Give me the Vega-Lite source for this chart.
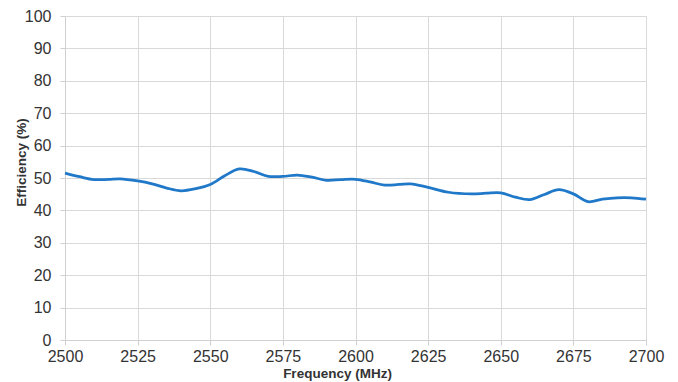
{
  "$schema": "https://vega.github.io/schema/vega-lite/v6.json",
  "width": 581,
  "height": 324,
  "autosize": {"type": "none"},
  "padding": {"left": 65, "top": 16, "right": 32, "bottom": 42},
  "background": "white",
  "config": {"view": {"stroke": null}},
  "data": {
    "values": [
      {"freq": 2500, "eff": 51.5},
      {"freq": 2505, "eff": 50.4},
      {"freq": 2510, "eff": 49.5},
      {"freq": 2515, "eff": 49.6},
      {"freq": 2519, "eff": 49.75},
      {"freq": 2525, "eff": 49.1},
      {"freq": 2530, "eff": 48.2},
      {"freq": 2535, "eff": 46.9},
      {"freq": 2540, "eff": 46.05},
      {"freq": 2545, "eff": 46.7},
      {"freq": 2550, "eff": 48.0},
      {"freq": 2555, "eff": 50.7},
      {"freq": 2560, "eff": 52.8},
      {"freq": 2565, "eff": 52.0},
      {"freq": 2570, "eff": 50.5},
      {"freq": 2575, "eff": 50.5},
      {"freq": 2580, "eff": 50.9},
      {"freq": 2585, "eff": 50.25},
      {"freq": 2590, "eff": 49.3},
      {"freq": 2595, "eff": 49.5},
      {"freq": 2600, "eff": 49.6},
      {"freq": 2605, "eff": 48.8},
      {"freq": 2610, "eff": 47.8},
      {"freq": 2615, "eff": 48.0},
      {"freq": 2619, "eff": 48.2},
      {"freq": 2625, "eff": 47.1},
      {"freq": 2632, "eff": 45.6},
      {"freq": 2640, "eff": 45.1},
      {"freq": 2645, "eff": 45.3},
      {"freq": 2650, "eff": 45.4},
      {"freq": 2655, "eff": 44.1},
      {"freq": 2660, "eff": 43.3},
      {"freq": 2665, "eff": 44.9},
      {"freq": 2670, "eff": 46.4},
      {"freq": 2675, "eff": 45.1},
      {"freq": 2680, "eff": 42.7},
      {"freq": 2685, "eff": 43.45},
      {"freq": 2690, "eff": 43.9},
      {"freq": 2695, "eff": 43.9},
      {"freq": 2700, "eff": 43.45}
    ]
  },
  "mark": {"type": "line", "interpolate": "catmull-rom", "color": "#1f78c8", "strokeWidth": 2.75},
  "encoding": {
    "x": {
      "field": "freq",
      "type": "quantitative",
      "scale": {"domain": [2500, 2700], "nice": false, "zero": false},
      "axis": {
        "values": [2500, 2525, 2550, 2575, 2600, 2625, 2650, 2675, 2700],
        "format": "d",
        "title": "Frequency (MHz)",
        "titleFont": "Liberation Sans",
        "titleFontSize": 13.5,
        "titleFontWeight": "bold",
        "titleColor": "#333333",
        "titleX": 272,
        "titleY": 33.5,
        "titleBaseline": "middle",
        "titleAlign": "center",
        "labelFont": "Liberation Sans",
        "labelFontSize": 16,
        "labelColor": "#333333",
        "labelPadding": 3,
        "labelFlush": false,
        "labelOverlap": false,
        "tickSize": 5,
        "tickColor": "#d0d0d0",
        "domainColor": "#d0d0d0",
        "gridColor": "#d9d9d9",
        "grid": true
      }
    },
    "y": {
      "field": "eff",
      "type": "quantitative",
      "scale": {"domain": [0, 100], "nice": false},
      "axis": {
        "values": [0, 10, 20, 30, 40, 50, 60, 70, 80, 90, 100],
        "title": "Efficiency (%)",
        "titleFont": "Liberation Sans",
        "titleFontSize": 13.5,
        "titleFontWeight": "bold",
        "titleColor": "#333333",
        "titleAngle": -90,
        "titleX": -44,
        "titleY": 146,
        "titleAlign": "center",
        "titleBaseline": "middle",
        "labelFont": "Liberation Sans",
        "labelFontSize": 16,
        "labelColor": "#333333",
        "labelPadding": 9,
        "labelFlush": false,
        "labelOverlap": false,
        "tickSize": 5,
        "tickColor": "#d0d0d0",
        "domainColor": "#d0d0d0",
        "gridColor": "#d9d9d9",
        "grid": true
      }
    }
  }
}
